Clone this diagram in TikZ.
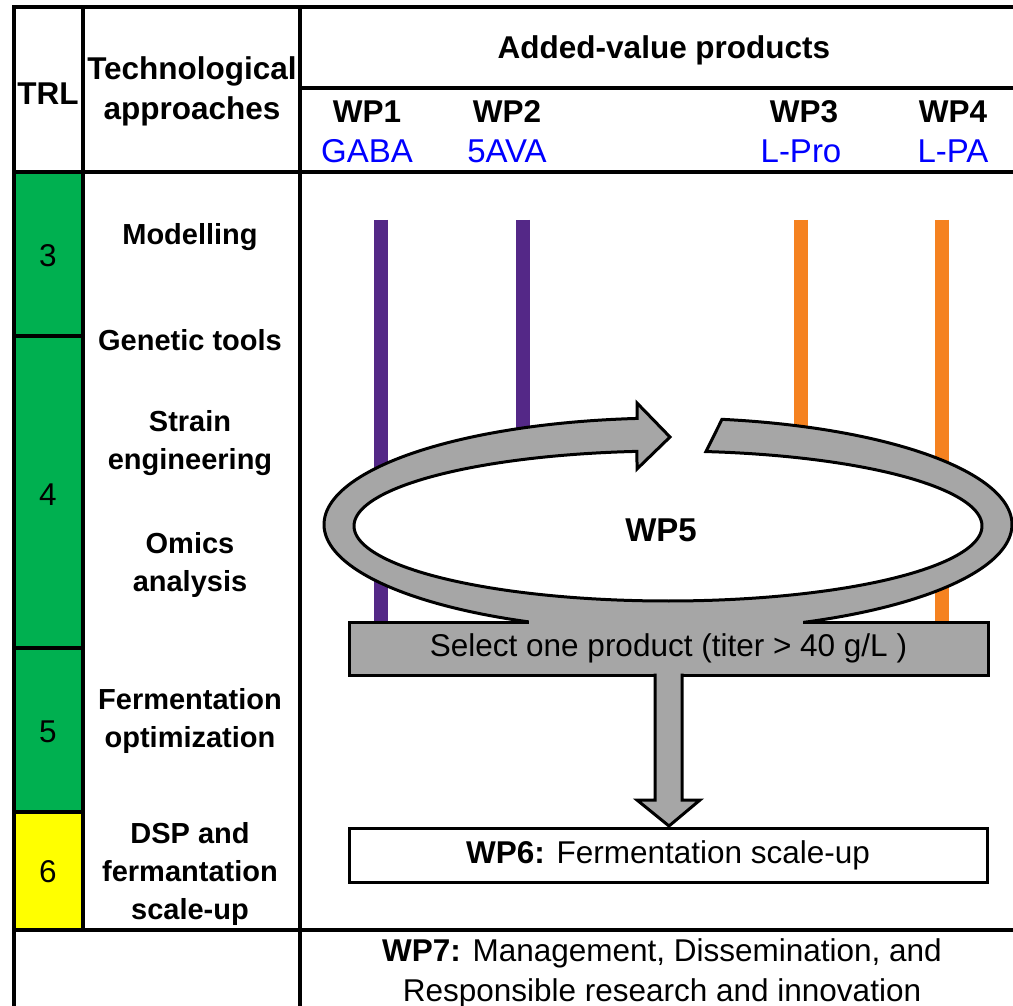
\documentclass[tikz,border=0pt]{standalone}
\usepackage{fontspec}
\setmainfont{Liberation Sans}
\usetikzlibrary{calc}
\definecolor{trlgreen}{RGB}{0,176,80}
\definecolor{trlyellow}{RGB}{255,255,0}
\definecolor{wppurple}{RGB}{84,40,135}
\definecolor{wporange}{RGB}{245,130,32}
\definecolor{ringgray}{RGB}{166,166,166}
\definecolor{prodblue}{RGB}{0,0,255}
\newcommand{\fsz}{\fontsize{31.5}{40}\selectfont}
\newcommand{\fszt}{\fontsize{29}{38}\selectfont}
\newcommand{\fszp}{\fontsize{33}{40}\selectfont}
\begin{document}
\begin{tikzpicture}[x=1pt,y=-1pt,
  grid/.style={line width=3.5pt, line cap=rect},
  txt/.style={font=\fsz, inner sep=0pt, align=center},
  hdr/.style={txt, font=\fsz\bfseries},
  prod/.style={txt, font=\fszp, text=prodblue},
  techlabel/.style={txt, font=\fszt\bfseries},
  wpline/.style={line width=14pt},
  shapeline/.style={draw=black, fill=ringgray, line width=3pt, line join=miter}
]
\useasboundingbox (0,0) rectangle (1013,1006);
\fill[white] (0,0) rectangle (1013,1006);

% TRL cells
\fill[trlgreen] (14,172) rectangle (83,336);
\fill[trlgreen] (14,336) rectangle (83,648);
\fill[trlgreen] (14,648) rectangle (83,812);
\fill[trlyellow] (14,812) rectangle (83,930);

% table lines
\draw[grid] (14,7) -- (1016,7);
\draw[grid] (14,7) -- (14,1010);
\draw[grid] (83,7) -- (83,930);
\draw[grid] (300,7) -- (300,1010);
\draw[grid] (300,88) -- (1016,88);
\draw[grid] (14,172) -- (1016,172);
\draw[grid] (14,336) -- (83,336);
\draw[grid] (14,648) -- (83,648);
\draw[grid] (14,812) -- (83,812);
\draw[grid] (14,930) -- (1016,930);

% header texts
\node[hdr] (trl) at (48,94) {TRL};
\node[hdr] (tech) at (192,91) {Technological\\approaches};
\node[hdr] (avp) at (664,50) {Added-value products};
\node[hdr] (wp1) at (367,112) {WP1};
\node[prod] (gaba) at (367,151) {GABA};
\node[hdr] (wp2) at (507,112) {WP2};
\node[prod] (ava) at (507,151) {5AVA};
\node[hdr] (wp3) at (804,112) {WP3};
\node[prod] (lpro) at (801,151) {L-Pro};
\node[hdr] (wp4) at (953,112) {WP4};
\node[prod] (lpa) at (953,151) {L-PA};

% TRL numbers
\node[txt] (n3) at (48,256) {3};
\node[txt] (n4) at (48,495) {4};
\node[txt] (n5) at (48,732) {5};
\node[txt] (n6) at (48,872) {6};

% technological approaches
\node[techlabel] (t1) at (190,237) {Modelling};
\node[techlabel] (t2) at (190,340) {Genetic tools};
\node[techlabel] (t3) at (190,443) {Strain\\engineering};
\node[techlabel] (t4) at (190,565) {Omics\\analysis};
\node[techlabel] (t5) at (190,721) {Fermentation\\optimization};
\node[techlabel] (t6) at (190,874) {DSP and\\fermantation\\scale-up};

% product bars
\draw[wpline, wppurple] (381,220) -- (381,622);
\draw[wpline, wppurple] (523,220) -- (523,622);
\draw[wpline, wporange] (801,220) -- (801,622);
\draw[wpline, wporange] (942,220) -- (942,622);

% WP5 cycle
\fill[white] (668,526) ellipse [x radius=314pt, y radius=75pt];
\path[shapeline]
  plot[domain=80.97:-264.83, samples=220, variable=\t] ({668+344*cos(\t)},{524.5-106.5*sin(\t)})
  -- (637,403) -- (670,437) -- (637,469)
  -- plot[domain=95.67:443.05, samples=220, variable=\t] ({668+314*cos(\t)},{526-75*sin(\t)})
  -- cycle;
\node[hdr, font=\fszp\bfseries] (wp5) at (661,530) {WP5};

% selection box
\node[shapeline, minimum width=639pt, minimum height=53pt, inner sep=0pt, font=\fsz] (sel) at (668.5,648.5) {\raisebox{-3pt}{Select one product (titer > 40 g/L )}};
\fill[ringgray] (529,620) rectangle (803,624.6);

% stem arrow to WP6
\path[shapeline] (655,673.5) -- (655,800) -- (637,800) -- (669,826) -- (700,800) -- (682,800) -- (682,673.5);

% WP6 box
\node[draw, fill=white, line width=3pt, minimum width=638pt, minimum height=54pt, inner sep=0pt, font=\fsz] (wp6) at (668,855) {\raisebox{-4pt}{\textbf{WP6:} Fermentation scale-up}};

% WP7
\node[txt] (wp7) at (662,973) {\textbf{WP7:} Management, Dissemination, and\\Responsible research and innovation};
\end{tikzpicture}
\end{document}
